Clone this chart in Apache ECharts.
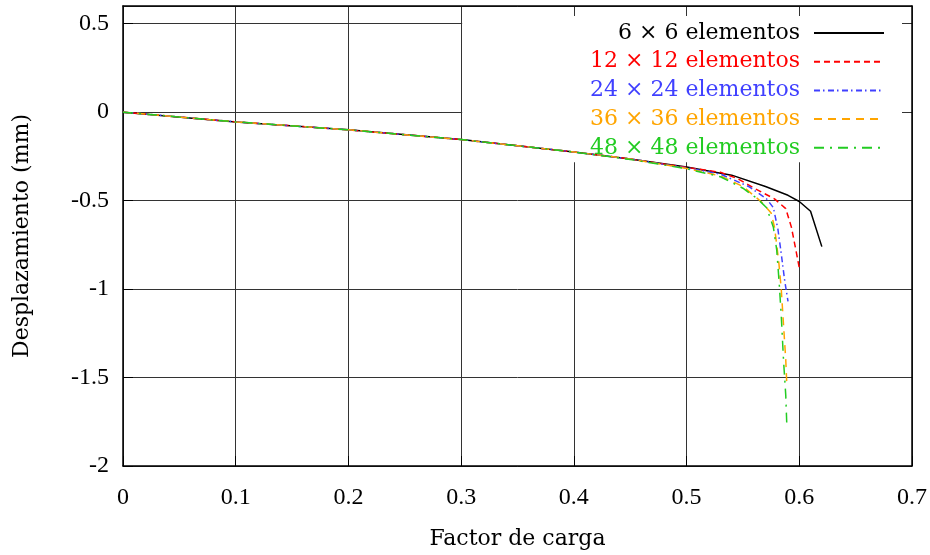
<!DOCTYPE html>
<html>
<head>
<meta charset="utf-8">
<script src="https://cdn.jsdelivr.net/npm/echarts@6/dist/echarts.min.js"></script>
<style>
html,body{margin:0;padding:0;background:#fff;}
#chart{width:930px;height:555px;}
</style>
</head>
<body>
<div id="chart"></div>
<script>
// Series names
const seriesNames = ['6 × 6 elementos', '12 × 12 elementos', '24 × 24 elementos', '36 × 36 elementos', '48 × 48 elementos'];

// 6 x 6
const load6 = [0, 0.1, 0.2, 0.3, 0.4, 0.45, 0.5, 0.54, 0.57, 0.59, 0.60, 0.61, 0.62];
const disp6 = [0, -0.055, -0.10, -0.155, -0.225, -0.265, -0.31, -0.356, -0.42, -0.47, -0.505, -0.56, -0.76];

// 12 x 12
const load12 = [0, 0.1, 0.2, 0.3, 0.4, 0.45, 0.5, 0.53, 0.545, 0.56, 0.578, 0.588, 0.593, 0.597, 0.600];
const disp12 = [0, -0.055, -0.10, -0.155, -0.225, -0.265, -0.312, -0.34, -0.375, -0.43, -0.49, -0.545, -0.65, -0.78, -0.88];

// 24 x 24
const load24 = [0, 0.1, 0.2, 0.3, 0.4, 0.45, 0.5, 0.53, 0.555, 0.571, 0.577, 0.581, 0.584, 0.587, 0.59];
const disp24 = [0, -0.055, -0.10, -0.155, -0.225, -0.265, -0.315, -0.35, -0.42, -0.49, -0.54, -0.66, -0.80, -0.95, -1.07];

// 36 x 36
const load36 = [0, 0.1, 0.2, 0.3, 0.4, 0.45, 0.5, 0.53, 0.55, 0.566, 0.575, 0.578, 0.580, 0.582, 0.584, 0.586, 0.588, 0.589];
const disp36 = [0, -0.055, -0.10, -0.155, -0.225, -0.265, -0.318, -0.36, -0.42, -0.505, -0.57, -0.65, -0.75, -0.86, -1.0, -1.2, -1.4, -1.55];

// 48 x 48
const load48 = [0, 0.1, 0.2, 0.3, 0.4, 0.45, 0.5, 0.53, 0.55, 0.563, 0.571, 0.577, 0.580, 0.582, 0.584, 0.586, 0.588, 0.589];
const disp48 = [0, -0.055, -0.10, -0.155, -0.225, -0.267, -0.32, -0.365, -0.43, -0.49, -0.54, -0.65, -0.78, -0.95, -1.15, -1.4, -1.6, -1.78];

const loads = [load6, load12, load24, load36, load48];
const disps = [disp6, disp12, disp24, disp36, disp48];
const colors = ['#000000', '#ff0000', '#4040ff', '#ffa500', '#22cc22'];
const dashes = ['solid', [6, 4], [6, 3, 1.5, 3.5], [8, 6], [10, 6, 2, 6]];

const chart = echarts.init(document.getElementById('chart'), null, {renderer: 'canvas'});

const tickFont = {fontFamily: 'Liberation Serif', fontSize: 24, color: '#000'};
const nameFont = {fontFamily: 'DejaVu Serif', fontSize: 22, color: '#000'};

const series = seriesNames.map((n, i) => ({
  name: n,
  type: 'line',
  xAxisIndex: 0,
  yAxisIndex: 0,
  data: loads[i].map((x, j) => [x, disps[i][j]]),
  symbol: 'none',
  showSymbol: false,
  zlevel: 2,
  z: 4,
  lineStyle: {color: colors[i], width: 1.5, type: dashes[i]},
  itemStyle: {color: colors[i]},
  animation: false
}));

const option = {
  animation: false,
  grid: {left: 123, right: 17, top: 6, bottom: 89, containLabel: false},
  legend: {
    zlevel: 2,
    orient: 'vertical',
    right: 45,
    top: 22,
    align: 'right',
    padding: 0,
    itemWidth: 70,
    itemHeight: 22,
    itemGap: 6.7,
    selectedMode: false,
    itemStyle: {opacity: 0},
    data: seriesNames.map((n, i) => ({
      name: n,
      textStyle: {color: colors[i], fontFamily: 'DejaVu Serif', fontSize: 22, padding: [0, 9, 0, 0]}
    }))
  },
  xAxis: [{
    type: 'value', min: 0, max: 0.7, interval: 0.1, position: 'bottom',
    name: 'Factor de carga', nameLocation: 'middle', nameGap: 62, nameTextStyle: nameFont,
    axisLine: {show: true, onZero: false, lineStyle: {color: '#000', width: 1.5}},
    axisTick: {show: true, inside: true, length: 10, lineStyle: {color: '#000'}},
    axisLabel: Object.assign({margin: 20}, tickFont),
    splitLine: {show: true, lineStyle: {color: '#333', width: 1}},
    zlevel: 0, z: 0
  }, {
    type: 'value', min: 0, max: 0.7, interval: 0.1, position: 'top',
    axisLine: {show: true, onZero: false, lineStyle: {color: '#000', width: 1.5}},
    axisTick: {show: false},
    axisLabel: {show: false},
    splitLine: {show: false},
    zlevel: 2, z: 3
  }],
  yAxis: [{
    type: 'value', min: -2, max: 0.6, interval: 0.5, position: 'left',
    name: 'Desplazamiento (mm)', nameLocation: 'middle', nameGap: 90, nameRotate: 90, nameTextStyle: nameFont,
    axisLine: {show: true, onZero: false, lineStyle: {color: '#000', width: 1.5}},
    axisTick: {show: true, inside: true, length: 10, lineStyle: {color: '#000'}},
    axisLabel: Object.assign({margin: 14, showMaxLabel: false}, tickFont),
    splitLine: {show: true, lineStyle: {color: '#333', width: 1}},
    zlevel: 0, z: 0
  }, {
    type: 'value', min: -2, max: 0.6, interval: 0.5, position: 'right',
    axisLine: {show: true, onZero: false, lineStyle: {color: '#000', width: 1.5}},
    axisTick: {show: false},
    axisLabel: {show: false},
    splitLine: {show: false},
    zlevel: 2, z: 3
  }],
  series: series
};

chart.setOption(option);

// White key box behind the legend, covering the grid lines (like gnuplot's key);
// an inset of the tick length leaves the grid-line ends visible as mirror ticks.
const tickLen = 10;
const p0 = chart.convertToPixel({xAxisIndex: 0, yAxisIndex: 0}, [0.3, 0.6]);
const p1 = chart.convertToPixel({xAxisIndex: 0, yAxisIndex: 0}, [0.7, -0.283]);
chart.setOption({
  graphic: {
    elements: [{
      type: 'rect',
      zlevel: 1,
      z: 1,
      silent: true,
      shape: {
        x: p0[0] + 1,
        y: p0[1] + tickLen,
        width: p1[0] - p0[0] - 1 - tickLen,
        height: p1[1] - p0[1] - tickLen
      },
      style: {fill: '#ffffff'}
    }]
  }
});
</script>
</body>
</html>
